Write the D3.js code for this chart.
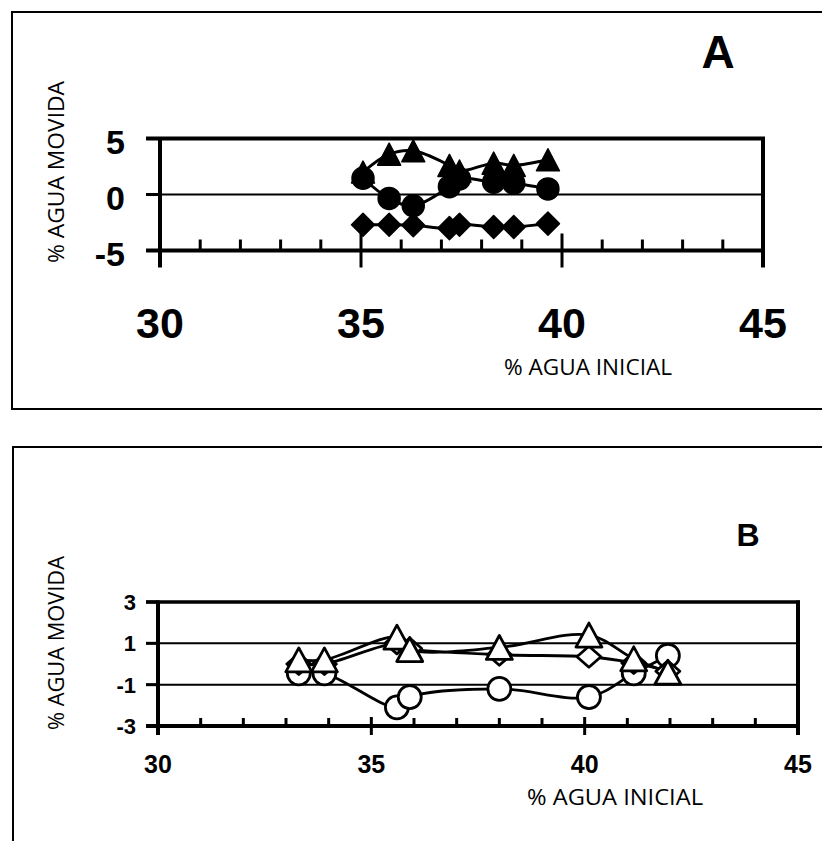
<!DOCTYPE html>
<html><head><meta charset="utf-8">
<script src="https://cdn.jsdelivr.net/npm/d3@7"></script>
<style>body{margin:0;background:#fff}svg{display:block}</style>
</head><body>
<script>
// ---------- data ----------
const xTicks = [30, 35, 40, 45];
const minorTicks = [31,32,33,34,36,37,38,39,41,42,43,44];

// Panel A
const yTicksA = [5, 0, -5];
const xA = [35.05, 35.7, 36.3, 37.2, 37.45, 38.3, 38.8, 39.65];
const triA = [2.0, 3.6, 3.9, 2.6, 2.1, 2.8, 2.6, 3.1];
const circA = [1.45, -0.35, -1.0, 0.7, 1.4, 1.1, 1.0, 0.5];
const diaA = [-2.7, -2.7, -2.75, -3.0, -2.7, -2.9, -2.9, -2.6];

// Panel B
const yTicksB = [3, 1, -1, -3];
const xB = [33.3, 33.9, 35.6, 35.9, 38.0, 40.1, 41.15, 41.95];
const triB = [0.2, 0.2, 1.3, 0.7, 0.8, 1.4, 0.25, -0.4];
const diaB = [0.0, 0.0, 1.0, 0.75, 0.45, 0.35, 0.05, -0.35];
const circB = [-0.45, -0.45, -2.1, -1.6, -1.2, -1.6, -0.45, 0.4];

const xLabel = "% AGUA INICIAL";
const yLabel = "% AGUA MOVIDA";

// ---------- drawing ----------
const svg = d3.select("body").append("svg").attr("width", 822).attr("height", 841);
svg.append("rect").attr("width", 822).attr("height", 841).attr("fill", "#fff");

function shape(type, w, h) {
  const a = w / 2, b = h / 2;
  if (type === "tri") return `M0,${-b}L${a},${b}L${-a},${b}Z`;
  if (type === "dia") return `M0,${-b}L${a},0L0,${b}L${-a},0Z`;
  const p = d3.path(); p.arc(0, 0, a, 0, 2 * Math.PI); p.closePath(); return p.toString();
}

function panel(cfg) {
  const g = svg.append("g");
  const x = d3.scaleLinear().domain([30, 45]).range(cfg.xr);
  const y = d3.scaleLinear().domain(cfg.yd).range(cfg.yr);
  const yTop = y(cfg.yd[1]), yBot = y(cfg.yd[0]);
  // frame
  g.append("rect").attr("x", cfg.frame[0]).attr("y", cfg.frame[1])
    .attr("width", cfg.frame[2]).attr("height", cfg.frame[3])
    .attr("fill", "none").attr("stroke", "#000").attr("stroke-width", 2);
  // gridlines (interior)
  g.selectAll(".grid").data(cfg.yTicks.filter(v => v !== cfg.yd[0] && v !== cfg.yd[1]))
    .join("line").attr("x1", 146).attr("x2", x(45))
    .attr("y1", d => y(d)).attr("y2", d => y(d))
    .attr("stroke", "#000").attr("stroke-width", 2);
  // top line
  g.append("line").attr("x1", 146).attr("x2", x(45) + 2).attr("y1", yTop).attr("y2", yTop)
    .attr("stroke", "#000").attr("stroke-width", cfg.topW);
  // y ticks
  g.selectAll(".yt").data(cfg.yTicks).join("line")
    .attr("x1", 146).attr("x2", x(30)).attr("y1", d => y(d)).attr("y2", d => y(d))
    .attr("stroke", "#000").attr("stroke-width", 3);
  // bottom axis
  g.append("line").attr("x1", 146).attr("x2", x(45) + 2).attr("y1", yBot).attr("y2", yBot)
    .attr("stroke", "#000").attr("stroke-width", 4);
  // minor ticks
  g.selectAll(".mt").data(minorTicks).join("line")
    .attr("x1", d => x(d)).attr("x2", d => x(d))
    .attr("y1", yBot - cfg.minorLen).attr("y2", yBot)
    .attr("stroke", "#000").attr("stroke-width", 3);
  // major ticks (incl. left axis and right border)
  g.selectAll(".Mt").data(xTicks).join("line")
    .attr("x1", d => x(d)).attr("x2", d => x(d))
    .attr("y1", d => (d === 30 || d === 45) ? yTop - 1.5 : yBot - cfg.majUp)
    .attr("y2", yBot + cfg.majDown)
    .attr("stroke", "#000").attr("stroke-width", d => (d === 30 || d === 45) ? 4 : 3);
  // tick labels
  g.selectAll(".xl").data(xTicks).join("text")
    .attr("x", d => x(d)).attr("y", cfg.xLabY)
    .attr("text-anchor", "middle")
    .attr("font-family", "'Liberation Sans', Arial, sans-serif").attr("font-weight", "bold")
    .attr("font-size", cfg.xFs).text(d => d);
  g.selectAll(".yl").data(cfg.yTicks).join("text")
    .attr("x", cfg.yLabX).attr("y", d => y(d) + cfg.yLabDy)
    .attr("text-anchor", "end")
    .attr("font-family", "'Liberation Sans', Arial, sans-serif").attr("font-weight", "bold")
    .attr("font-size", cfg.yFs).text(d => d);
  // axis titles
  g.append("text").attr("x", cfg.xTitle[0]).attr("y", cfg.xTitle[1])
    .attr("font-family", "'Open Sans', 'Liberation Sans', sans-serif").attr("font-size", 22)
    .attr("textLength", cfg.xTitle[2]).attr("lengthAdjust", "spacingAndGlyphs").text(xLabel);
  g.append("text").attr("transform", `translate(${cfg.yTitle[0]},${cfg.yTitle[1]}) rotate(-90)`)
    .attr("text-anchor", "middle")
    .attr("font-family", "'Open Sans', 'Liberation Sans', sans-serif").attr("font-size", 22)
    .attr("textLength", cfg.yTitle[2]).attr("lengthAdjust", "spacingAndGlyphs").text(yLabel);
  // panel letter
  g.append("text").attr("x", cfg.letter[0]).attr("y", cfg.letter[1]).attr("text-anchor", "middle")
    .attr("font-family", "'Liberation Sans', Arial, sans-serif").attr("font-weight", "bold")
    .attr("font-size", cfg.letter[2]).text(cfg.letter[3]);

  // series
  const line = d3.line().x(d => x(d[0])).y(d => y(d[1])).curve(d3.curveCatmullRom.alpha(0.5));
  cfg.series.forEach(s => {
    const pts = cfg.xs.map((v, i) => [v, s.vals[i]]);
    g.append("path").attr("d", line(pts)).attr("fill", "none")
      .attr("stroke", "#000").attr("stroke-width", cfg.lineW);
  });
  cfg.series.forEach(s => {
    const pts = cfg.xs.map((v, i) => [v, s.vals[i]]);
    g.selectAll(null).data(pts).join("path")
      .attr("transform", d => `translate(${x(d[0])},${y(d[1])})`)
      .attr("d", shape(s.type, s.w, s.h))
      .attr("fill", cfg.filled ? "#000" : "#fff")
      .attr("stroke", "#000").attr("stroke-width", cfg.filled ? 1.5 : 2.8)
      .attr("stroke-linejoin", "round");
  });
}

panel({
  xr: [160, 763], yd: [-5, 5], yr: [250.5, 138.5], yTicks: yTicksA,
  frame: [12, 12, 840, 397], topW: 4, minorLen: 11, majUp: 17, majDown: 17,
  xLabY: 338, xFs: 43, yLabX: 125, yLabDy: 15, yFs: 34,
  xTitle: [504, 375, 168], yTitle: [64, 172, 182], letter: [718, 68, 46, "A"],
  lineW: 3, filled: true, xs: xA,
  series: [
    { vals: diaA, type: "dia", w: 23, h: 23 },
    { vals: triA, type: "tri", w: 23, h: 22 },
    { vals: circA, type: "circ", w: 22, h: 22 }
  ]
});

panel({
  xr: [158, 798], yd: [-3, 3], yr: [726, 602], yTicks: yTicksB,
  frame: [13, 447, 840, 420], topW: 3.5, minorLen: 8, majUp: 9, majDown: 9,
  xLabY: 773, xFs: 25, yLabX: 136, yLabDy: 8, yFs: 22,
  xTitle: [527, 805, 176], yTitle: [64, 643, 174], letter: [748, 546, 32, "B"],
  lineW: 2.8, filled: false, xs: xB,
  series: [
    { vals: circB, type: "circ", w: 23, h: 23 },
    { vals: diaB, type: "dia", w: 24, h: 21 },
    { vals: triB, type: "tri", w: 26, h: 24 }
  ]
});
</script>
</body></html>
